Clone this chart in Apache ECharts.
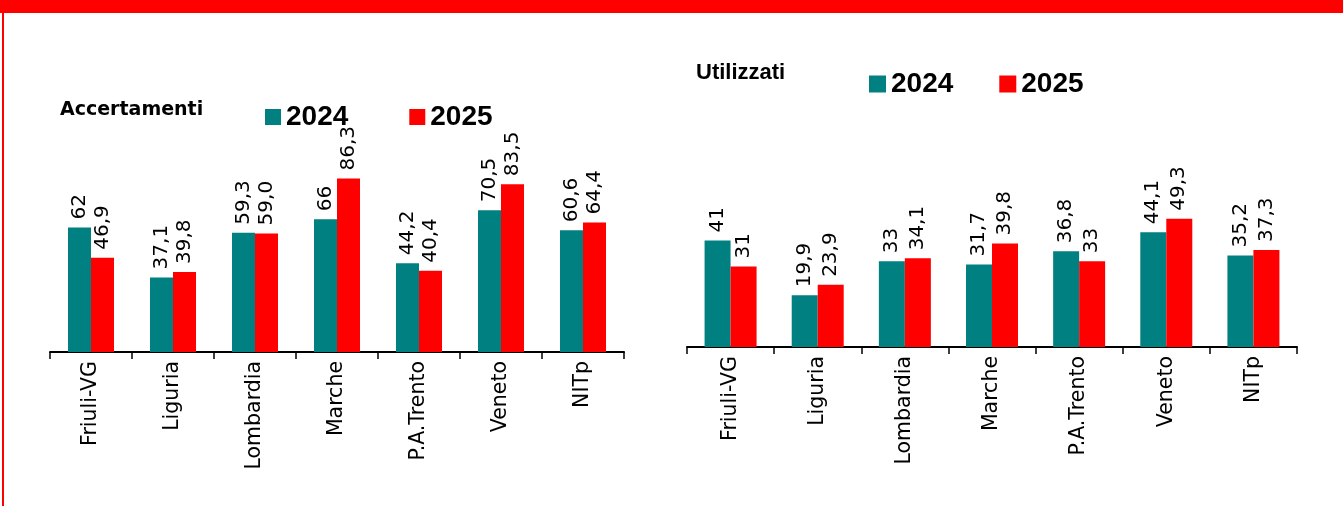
<!DOCTYPE html>
<html>
<head>
<meta charset="utf-8">
<script src="https://cdn.jsdelivr.net/npm/echarts@6/dist/echarts.min.js"></script>
<style>
  html, body { margin: 0; padding: 0; background: #fff; }
  #chart { width: 1343px; height: 506px; }
</style>
</head>
<body>
<div id="chart"></div>
<script>
// data
const categories = ['Friuli-VG', 'Liguria', 'Lombardia', 'Marche', 'P.A.Trento', 'Veneto', 'NITp']
const years = ['2024', '2025']
const acc2024 = [62, 37.1, 59.3, 66, 44.2, 70.5, 60.6]
const acc2025 = [46.9, 39.8, 59.0, 86.3, 40.4, 83.5, 64.4]
const util2024 = [41, 19.9, 33, 31.7, 36.8, 44.1, 35.2]
const util2025 = [31, 23.9, 34.1, 39.8, 33, 49.3, 37.3]

const teal = '#008080'
const red = '#ff0000'
const font = 'DejaVu Sans'

const comma = (v, fixed) => (fixed ? v.toFixed(1) : String(v)).replace('.', ',')

const barLabel = (fixed) => ({
  show: true,
  position: 'top',
  rotate: 90,
  align: 'left',
  verticalAlign: 'middle',
  distance: 8,
  fontFamily: font,
  fontSize: 20,
  color: '#000',
  formatter: p => comma(p.value, fixed),
})

const xAxisBase = (gridIndex) => ({
  type: 'category',
  gridIndex,
  data: categories,
  axisLine: { show: true, lineStyle: { color: '#000', width: 2 } },
  axisTick: { show: true, inside: false, alignWithLabel: false, length: 7, lineStyle: { color: '#000', width: 1.5 } },
  axisLabel: { rotate: 90, margin: 9, fontFamily: font, fontSize: 20.5, color: '#000' },
  splitLine: { show: false },
})

const legendBase = (left, top, size, gap) => ({
  left, top,
  padding: 0,
  data: years,
  icon: 'rect',
  itemWidth: size,
  itemHeight: size,
  itemGap: gap,
  selectedMode: false,
  textStyle: { fontFamily: 'Liberation Sans', fontWeight: 'bold', fontSize: 28, color: '#000' },
})

const chart = echarts.init(document.getElementById('chart'), null, { renderer: 'canvas' })

chart.setOption({
  animation: false,
  graphic: [
    { type: 'rect', shape: { x: 0, y: 0, width: 1343, height: 13 }, style: { fill: red } },
    { type: 'rect', shape: { x: 2, y: 0, width: 2, height: 506 }, style: { fill: red } },
    { type: 'text', left: 60, top: 101, style: { text: 'Accertamenti', font: 'bold 19px "DejaVu Sans"', fill: '#000' } },
    { type: 'text', left: 696, top: 62, style: { text: 'Utilizzati', font: 'bold 22px "Liberation Sans"', fill: '#000' } },
  ],
  legend: [
    legendBase(265, 103, 16, 61),
    legendBase(869, 70, 17, 46),
  ],
  grid: [
    { left: 50, width: 574, top: 151, height: 201 },
    { left: 687, width: 610, top: 191, height: 156 },
  ],
  xAxis: [xAxisBase(0), xAxisBase(1)],
  yAxis: [
    { type: 'value', gridIndex: 0, min: 0, max: 100, show: false, splitLine: { show: false } },
    { type: 'value', gridIndex: 1, min: 0, max: 60, show: false, splitLine: { show: false } },
  ],
  series: [
    { name: '2024', type: 'bar', xAxisIndex: 0, yAxisIndex: 0, data: acc2024, barWidth: 23, barGap: '0%', itemStyle: { color: teal }, label: barLabel(false) },
    { name: '2025', type: 'bar', xAxisIndex: 0, yAxisIndex: 0, data: acc2025, barWidth: 23, barGap: '0%', itemStyle: { color: red }, label: barLabel(true) },
    { name: '2024', type: 'bar', xAxisIndex: 1, yAxisIndex: 1, data: util2024, barWidth: 26, barGap: '0%', itemStyle: { color: teal }, label: barLabel(false) },
    { name: '2025', type: 'bar', xAxisIndex: 1, yAxisIndex: 1, data: util2025, barWidth: 26, barGap: '0%', itemStyle: { color: red }, label: barLabel(false) },
  ],
})
</script>
</body>
</html>
